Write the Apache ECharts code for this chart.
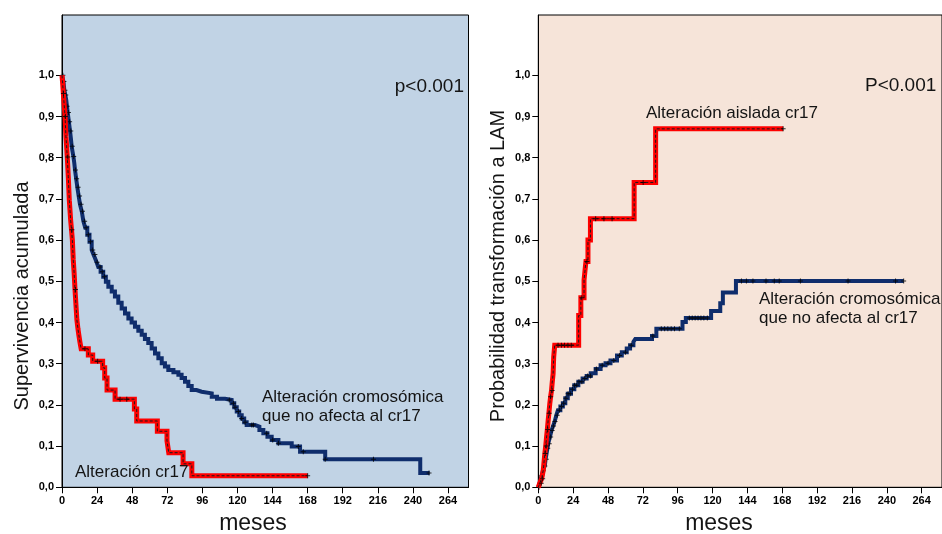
<!DOCTYPE html>
<html>
<head>
<meta charset="utf-8">
<script src="https://cdn.jsdelivr.net/npm/echarts@6/dist/echarts.min.js"></script>
<style>
  html, body { margin: 0; padding: 0; background: #ffffff; }
  #chart { width: 942px; height: 534px; }
</style>
</head>
<body>
<div id="chart"></div>
<script>
// Axis ticks (months, probability)
const monthTicks = [0, 24, 48, 72, 96, 120, 144, 168, 192, 216, 240, 264];
const probTicks = [0, 0.1, 0.2, 0.3, 0.4, 0.5, 0.6, 0.7, 0.8, 0.9, 1.0];

// Overall survival (Kaplan–Meier), [month, cumulative survival]; value holds from month onward
const survOther = [
  [0, 1.0], [1.0, 0.985], [1.6, 0.964], [2.3, 0.952], [2.9, 0.94], [3.4, 0.925], [3.9, 0.91],
  [4.7, 0.887], [5.5, 0.865], [6.1, 0.846], [6.6, 0.828], [7.2, 0.815], [7.8, 0.803], [8.4, 0.787],
  [8.9, 0.77], [9.7, 0.749], [10.5, 0.728], [11.4, 0.707], [12.3, 0.687], [13.5, 0.67], [14.6, 0.646],
  [15.9, 0.63], [17.3, 0.613], [18.8, 0.596], [20.3, 0.576], [21.5, 0.565], [22.6, 0.556], [23.7, 0.546],
  [24.8, 0.535], [26.4, 0.523], [28.2, 0.511], [30.0, 0.499], [31.7, 0.487], [34.0, 0.475], [36.2, 0.463],
  [38.5, 0.448], [40.8, 0.434], [43.1, 0.422], [45.4, 0.41], [47.6, 0.40], [49.9, 0.39], [52.2, 0.38],
  [54.5, 0.37], [56.7, 0.36], [59.0, 0.35], [61.3, 0.337], [63.6, 0.325], [65.9, 0.313], [68.2, 0.301],
  [70.4, 0.293], [72.7, 0.285], [76.2, 0.279], [79.6, 0.273], [81.8, 0.265], [84.1, 0.256], [86.4, 0.246],
  [88.7, 0.236], [92.0, 0.232], [95.5, 0.228], [102.4, 0.22], [106.0, 0.215], [111.5, 0.212], [116.0, 0.204],
  [117.8, 0.194], [119.5, 0.184], [121.2, 0.175], [122.9, 0.167], [124.6, 0.158], [126.3, 0.151], [132.0, 0.147],
  [135.0, 0.139], [137.7, 0.131], [140.5, 0.123], [143.4, 0.115], [148.0, 0.107], [157.1, 0.099], [162.8, 0.086],
  [180.0, 0.068], [245.0, 0.035], [251.4, 0.035]
];
const survCr17 = [
  [0, 1.0], [0.5, 0.978], [0.9, 0.956], [1.5, 0.928], [2.1, 0.9], [2.7, 0.851], [3.2, 0.826], [3.6, 0.802],
  [4.3, 0.754], [5.0, 0.697], [5.9, 0.649], [6.5, 0.625], [7.1, 0.6], [7.7, 0.552], [8.3, 0.52], [8.9, 0.48],
  [9.5, 0.445], [10.2, 0.406], [10.9, 0.385], [11.5, 0.37], [12.3, 0.352], [13.1, 0.336], [18.0, 0.321],
  [21.0, 0.306], [27.8, 0.29], [29.2, 0.265], [30.8, 0.236], [36.3, 0.214], [49.5, 0.19], [51.1, 0.161],
  [65.2, 0.136], [71.8, 0.113], [73.0, 0.084], [82.8, 0.057], [88.8, 0.028], [168.0, 0.028]
];
// Censored observations (months)
const censorSurvOther = [
  0.6, 1.3, 2.0, 2.6, 3.5, 4.4, 5.2, 6.0, 7.0, 8.0, 9.2, 10.0, 11.0, 12.0, 13.0, 14.0, 15.5, 16.5,
  18.0, 19.5, 21.0, 22.5, 24.0, 26.0, 27.5, 29.0, 114.4, 117.2, 118.3, 120.6, 122.9, 125.2, 129.8,
  130.9, 140.0, 144.1, 148.0, 161.6, 165.0, 180.0, 213.0, 251.0
];
const censorSurvCr17 = [1.0, 2.3, 4.0, 6.8, 9.2, 15.7, 24.4, 39.7, 44.3, 168.0];

// Cumulative incidence of transformation to AML, [month, probability]
const amlIsolatedCr17 = [
  [0, 0], [1.0, 0.01], [2.3, 0.021], [3.4, 0.041], [4.5, 0.082], [5.1, 0.1], [5.7, 0.122], [6.2, 0.14],
  [6.8, 0.163], [7.3, 0.18], [7.9, 0.203], [8.5, 0.22], [9.1, 0.235], [9.6, 0.255], [10.2, 0.276],
  [10.6, 0.316], [11.3, 0.345], [27.8, 0.417], [29.3, 0.46], [31.5, 0.503], [32.8, 0.548], [34.2, 0.6],
  [35.9, 0.652], [66.0, 0.74], [80.8, 0.87], [168.6, 0.87]
];
const amlOther = [
  [0, 0], [0.8, 0.008], [1.5, 0.018], [2.3, 0.028], [3.2, 0.04], [4.5, 0.052], [5.0, 0.068], [5.7, 0.082],
  [6.3, 0.095], [6.8, 0.106], [8.0, 0.122], [9.1, 0.138], [10.2, 0.149], [11.3, 0.16], [12.4, 0.175],
  [13.5, 0.187], [15.2, 0.196], [16.9, 0.204], [18.6, 0.216], [20.3, 0.227], [22.5, 0.238], [24.8, 0.248],
  [27.6, 0.256], [30.5, 0.264], [33.3, 0.27], [36.1, 0.277], [39.5, 0.287], [42.9, 0.296], [46.3, 0.301],
  [49.7, 0.308], [54.2, 0.32], [57.5, 0.328], [60.9, 0.337], [63.2, 0.345], [65.5, 0.353], [66.8, 0.36],
  [78.3, 0.367], [81.3, 0.385], [99.3, 0.401], [101.6, 0.411], [119.0, 0.428], [125.3, 0.447],
  [127.1, 0.473], [136.1, 0.501], [251.6, 0.501]
];
const censorAmlIsolated = [2.0, 3.0, 4.8, 5.5, 6.5, 7.5, 8.5, 9.5, 13.6, 15.9, 18.1, 20.4, 22.7, 30.0, 33.5, 39.5, 45.2, 50.8, 72.2, 168.6];
const censorAmlOther = [
  0.5, 1.5, 2.5, 3.5, 4.5, 5.5, 6.5, 7.5, 8.5, 9.5, 10.5, 11.5, 13.0, 14.5, 16.0, 17.5, 19.0, 20.5,
  22.0, 23.5, 25.0, 26.5, 28.0, 30.0, 32.0, 34.0, 36.0, 40.0, 44.0, 48.0, 52.0, 56.0, 60.0, 64.0,
  78.9, 84.7, 87.0, 89.2, 91.5, 93.8, 97.1, 104.0, 106.0, 108.0, 110.0, 112.0, 114.0, 116.4,
  139.9, 143.3, 147.8, 156.8, 162.5, 165.9, 180.5, 213.3, 246.0, 251.6
];

const FONT = '"Liberation Sans", Arial, Helvetica, sans-serif';
const NAVY = '#0f2d6c';
const RED = '#ff0000';
const CROSS = 'path://M2,0h1v2h2v1h-2v2h-1v-2h-2v-1h2z';

// value of a step curve at a given month
function stepAt(curve, t) {
  let v = curve[0][1];
  for (const p of curve) { if (p[0] <= t + 1e-9) v = p[1]; else break; }
  return v;
}
function censorPoints(curve, times) {
  return times.map(t => [t, stepAt(curve, t)]);
}

function xAxisFor(gridIndex) {
  return {
    type: 'value', gridIndex, min: 0, max: 278,
    axisLine: { show: true, onZero: false, lineStyle: { color: '#000', width: 1 } },
    axisTick: { show: true, length: 6, lineStyle: { color: '#000', width: 1 }, customValues: monthTicks },
    axisLabel: { customValues: monthTicks, margin: 8, fontSize: 11, fontWeight: 'bold', color: '#000', fontFamily: FONT },
    splitLine: { show: false }
  };
}
function yAxisFor(gridIndex) {
  return {
    type: 'value', gridIndex, min: 0, max: 1.1464,
    axisLine: { show: true, onZero: false, lineStyle: { color: '#000', width: 1 } },
    axisTick: { show: true, length: 6, lineStyle: { color: '#000', width: 1 }, customValues: probTicks },
    axisLabel: {
      customValues: probTicks, margin: 8, fontSize: 11, fontWeight: 'bold', color: '#000', fontFamily: FONT,
      formatter: v => v.toFixed(1).replace('.', ',')
    },
    splitLine: { show: false }
  };
}

function curveSeries(idx, data, color, width, z) {
  return {
    type: 'line', xAxisIndex: idx, yAxisIndex: idx, data, step: 'end',
    showSymbol: false, symbol: 'none', silent: true, z,
    lineStyle: { color, width, join: 'miter', cap: 'butt' }
  };
}
function dashedCenter(idx, data, z) {
  return {
    type: 'line', xAxisIndex: idx, yAxisIndex: idx, data, step: 'end',
    showSymbol: false, symbol: 'none', silent: true, z,
    lineStyle: { color: '#1a1a1a', width: 1, type: [3, 2] }
  };
}
function censorSeries(idx, pts, z) {
  return {
    type: 'scatter', xAxisIndex: idx, yAxisIndex: idx, data: pts, silent: true, z,
    symbol: CROSS, symbolSize: 5, itemStyle: { color: '#000' }
  };
}

function label(text, x, y, size, align) {
  return {
    type: 'text', x, y, silent: true, z: 100,
    style: { text, fontSize: size, fontFamily: FONT, fill: '#141414', align: align || 'left', verticalAlign: 'middle' }
  };
}

const chart = echarts.init(document.getElementById('chart'), null, { renderer: 'canvas' });
chart.setOption({
  animation: false,
  backgroundColor: '#ffffff',
  grid: [
    { left: 62, top: 15, width: 406.5, height: 472.3, show: true, backgroundColor: '#c1d3e5', borderColor: '#000', borderWidth: 1 },
    { left: 538.3, top: 15, width: 410.6, height: 472.3, show: true, backgroundColor: '#f6e4d9', borderColor: '#000', borderWidth: 1 }
  ],
  xAxis: [xAxisFor(0), xAxisFor(1)],
  yAxis: [yAxisFor(0), yAxisFor(1)],
  series: [
    curveSeries(0, survOther, NAVY, 4, 2),
    censorSeries(0, censorPoints(survOther, censorSurvOther), 3),
    curveSeries(0, survCr17, RED, 5, 4),
    dashedCenter(0, survCr17, 5),
    censorSeries(0, censorPoints(survCr17, censorSurvCr17), 6),

    curveSeries(1, amlOther, NAVY, 4, 2),
    censorSeries(1, censorPoints(amlOther, censorAmlOther), 3),
    curveSeries(1, amlIsolatedCr17, RED, 5, 4),
    dashedCenter(1, amlIsolatedCr17, 5),
    censorSeries(1, censorPoints(amlIsolatedCr17, censorAmlIsolated), 6)
  ],
  graphic: [
    { type: 'text', x: 22, y: 296, rotation: Math.PI / 2, silent: true,
      style: { text: 'Supervivencia acumulada', fontSize: 20, fontFamily: FONT, fill: '#141414', align: 'center', verticalAlign: 'middle' } },
    { type: 'text', x: 498, y: 266, rotation: Math.PI / 2, silent: true,
      style: { text: 'Probabilidad transformación a LAM', fontSize: 20, fontFamily: FONT, fill: '#141414', align: 'center', verticalAlign: 'middle' } },
    label('meses', 253, 524, 23, 'center'),
    label('meses', 719, 524, 23, 'center'),
    label('p<0.001', 464, 87, 19, 'right'),
    label('P<0.001', 865, 86, 19, 'left'),
    label('Alteración cromosómica', 262, 397, 17),
    label('que no afecta al cr17', 262, 416, 17),
    label('Alteración cr17', 75, 472, 17),
    label('Alteración aislada cr17', 646, 113, 17),
    label('Alteración cromosómica', 759, 299, 17),
    label('que no afecta al cr17', 759, 318, 17)
  ]
});
</script>
</body>
</html>
